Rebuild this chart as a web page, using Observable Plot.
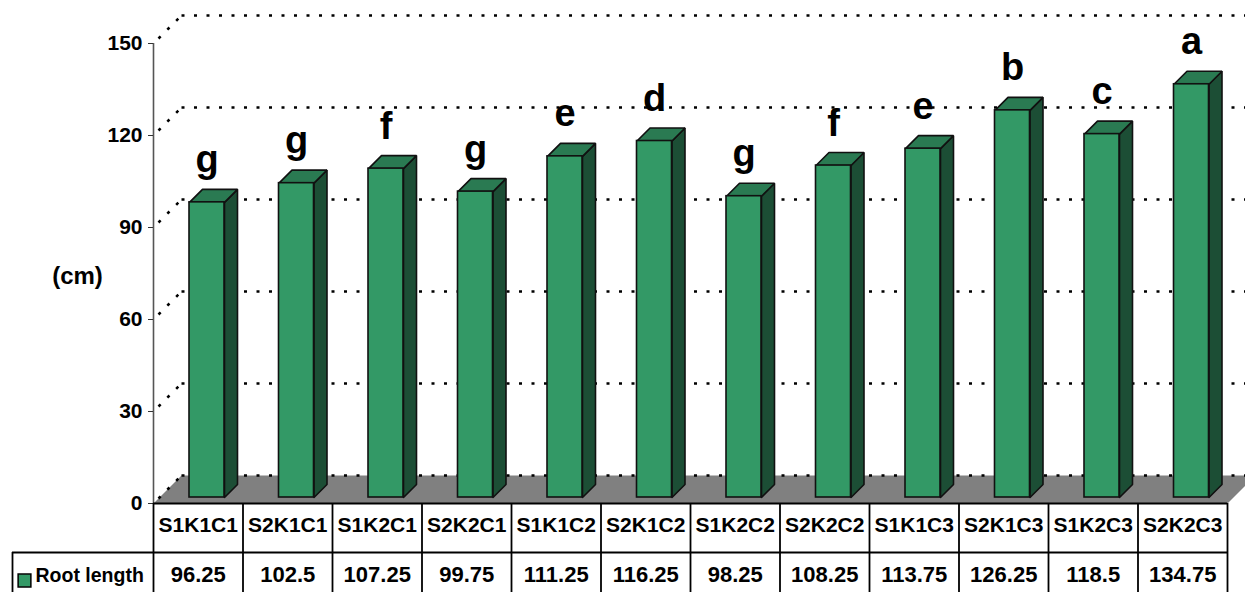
<!DOCTYPE html>
<html>
<head>
<meta charset="utf-8">
<script src="https://cdn.jsdelivr.net/npm/d3@7"></script>
<script src="https://cdn.jsdelivr.net/npm/@observablehq/plot@0.6"></script>
<style>
  body { margin: 0; background: #fff; }
  #chart svg { display: block; }
</style>
</head>
<body>
<div id="chart"></div>
<script>
// Root length per treatment combination (cm) with significance letters
const categories = ["S1K1C1", "S2K1C1", "S1K2C1", "S2K2C1", "S1K1C2", "S2K1C2",
                    "S1K2C2", "S2K2C2", "S1K1C3", "S2K1C3", "S1K2C3", "S2K2C3"];
const rootLength = [96.25, 102.5, 107.25, 99.75, 111.25, 116.25,
                    98.25, 108.25, 113.75, 126.25, 118.5, 134.75];
const letters = ["g", "g", "f", "g", "e", "d", "g", "f", "e", "b", "c", "a"];
const yTicks = [0, 30, 60, 90, 120, 150];
const seriesName = "Root length";
const unitLabel = "(cm)";

// ---- layout ----
const W = 1245, H = 592;
const M = {top: 43, right: 18, bottom: 89, left: 153};
const n = categories.length;
const yMax = 150;
const pxPerX = (W - M.left - M.right) / n;     // pixels per category slot
const pxPerY = (H - M.top - M.bottom) / yMax;  // pixels per cm

// oblique projection: a depth (in px) shifts a point right and up
const proj = (x, v, depth) => ({x: x + depth / pxPerX, y: v + depth / pxPerY});
const wallDepth = 28;           // floor / back wall depth
const barFront = 6, barBack = 19;
const barX0 = 30 / pxPerX, barW = 35 / pxPerX;
const px2y = px => -px / pxPerY; // offsets below the floor, for the table
const px2x = px => -px / pxPerX; // offsets left of the axis

const FONT = "'Liberation Sans Narrow', 'Arial Narrow', 'Liberation Sans', Arial, sans-serif";
const GREEN = "#339966", GREEN_TOP = "#2a7a52", GREEN_SIDE = "#1c4e35";

// bar geometry
const bars = rootLength.map((v, i) => {
  const xl = i + barX0, xr = xl + barW;
  const f0 = proj(xl, 0, barFront), f1 = proj(xr, v, barFront);
  return {i, v, letter: letters[i], x1: f0.x, x2: f1.x, y1: f0.y, y2: f1.y,
          cx: (f0.x + f1.x) / 2, top: f1.y};
});
const poly = (id, pts) => pts.concat([pts[0]]).map(([x, v, d]) => ({id, ...proj(x, v, d)}));
const tops = bars.flatMap(b => {
  const xl = b.i + barX0, xr = xl + barW;
  return poly(b.i, [[xl, b.v, barFront], [xr, b.v, barFront], [xr, b.v, barBack], [xl, b.v, barBack]]);
});
const sides = bars.flatMap(b => {
  const xr = b.i + barX0 + barW;
  return poly(b.i, [[xr, 0, barFront], [xr, b.v, barFront], [xr, b.v, barBack], [xr, 0, barBack]]);
});
const floor = poly("floor", [[0, 0, 0], [n, 0, 0], [n, 0, wallDepth], [0, 0, wallDepth]]);

const dotted = {stroke: "#000", strokeWidth: 2.6, strokeDasharray: "3 9.5", strokeLinecap: "butt"};
const edge = {stroke: "#111", strokeWidth: 1.6, strokeLinejoin: "miter"};

const rowSplit = px2y(49), tableBottom = px2y(M.bottom + 2);
const legendLeft = px2x(M.left - 12);

const chart = Plot.plot({
  width: W, height: H,
  marginTop: M.top, marginRight: M.right, marginBottom: M.bottom, marginLeft: M.left,
  style: {fontFamily: FONT, fontWeight: "bold", background: "#fff", color: "#000"},
  x: {domain: [0, n]},
  y: {domain: [0, yMax]},
  marks: [
    // floor
    Plot.line(floor, {x: "x", y: "y", z: "id", fill: "#808080", stroke: "none"}),
    // back-wall gridlines and the oblique ones on the left side
    Plot.link(yTicks, {
      x1: () => proj(0, 0, wallDepth).x, y1: t => proj(0, t, wallDepth).y,
      x2: () => proj(n + 1, 0, wallDepth).x, y2: t => proj(0, t, wallDepth).y, ...dotted
    }),
    Plot.link(yTicks, {
      x1: () => proj(0, 0, 5).x, y1: t => proj(0, t, 5).y,
      x2: () => proj(0, 0, wallDepth).x, y2: t => proj(0, t, wallDepth).y, ...dotted
    }),
    // y axis line
    Plot.ruleX([0], {y1: 0, y2: yMax, stroke: "#555", strokeWidth: 1.6}),
    Plot.axisY(yTicks, {
      anchor: "left", tickSize: 5, tickPadding: 6, fontSize: 21, label: null,
      stroke: "#333", fill: "#000"
    }),
    // 3-D columns
    Plot.line(sides, {x: "x", y: "y", z: "id", fill: GREEN_SIDE, ...edge}),
    Plot.line(tops, {x: "x", y: "y", z: "id", fill: GREEN_TOP, ...edge}),
    Plot.rect(bars, {x1: "x1", x2: "x2", y1: "y1", y2: "y2", fill: GREEN, ...edge}),
    // significance letters
    Plot.text(bars, {x: "cx", y: "top", text: "letter", dy: -30, lineAnchor: "bottom",
                     fontSize: 38, fill: "#000"}),
    // data table: category row (x axis) and value row
    Plot.axisX(d3.range(n).map(i => i + 0.5), {
      anchor: "bottom", tickSize: 0, tickPadding: 14, fontSize: 21, label: null,
      tickFormat: d => categories[Math.floor(d)], fill: "#000"
    }),
    Plot.text(d3.range(n), {
      x: i => i + 0.5, frameAnchor: "bottom", dy: 78, fontSize: 22,
      text: i => String(rootLength[i]), fill: "#000"
    }),
    Plot.ruleY([0], {x1: 0, x2: n, stroke: "#000", strokeWidth: 1.8}),
    Plot.ruleY([rowSplit], {x1: legendLeft, x2: n, stroke: "#000", strokeWidth: 1.8}),
    Plot.ruleX(d3.range(n + 1), {y1: 0, y2: tableBottom, stroke: "#000", strokeWidth: 1.8}),
    Plot.ruleX([legendLeft], {y1: rowSplit, y2: tableBottom, stroke: "#000", strokeWidth: 1.8}),
    // legend key inside the table
    Plot.dot([seriesName], {frameAnchor: "bottom-left", dx: -129, dy: 77, symbol: "square",
                            r: 7.2, fill: GREEN, stroke: "#000", strokeWidth: 1.5}),
    Plot.text([seriesName], {frameAnchor: "bottom-left", dx: -118, dy: 78, textAnchor: "start",
                             text: d => d, fontSize: 19.5, fill: "#000"}),
    // unit label
    Plot.text([unitLabel], {frameAnchor: "left", dx: -76, dy: 3, textAnchor: "middle",
                            text: d => d, fontSize: 24, fill: "#000"})
  ]
});
document.getElementById("chart").append(chart);
</script>
</body>
</html>
